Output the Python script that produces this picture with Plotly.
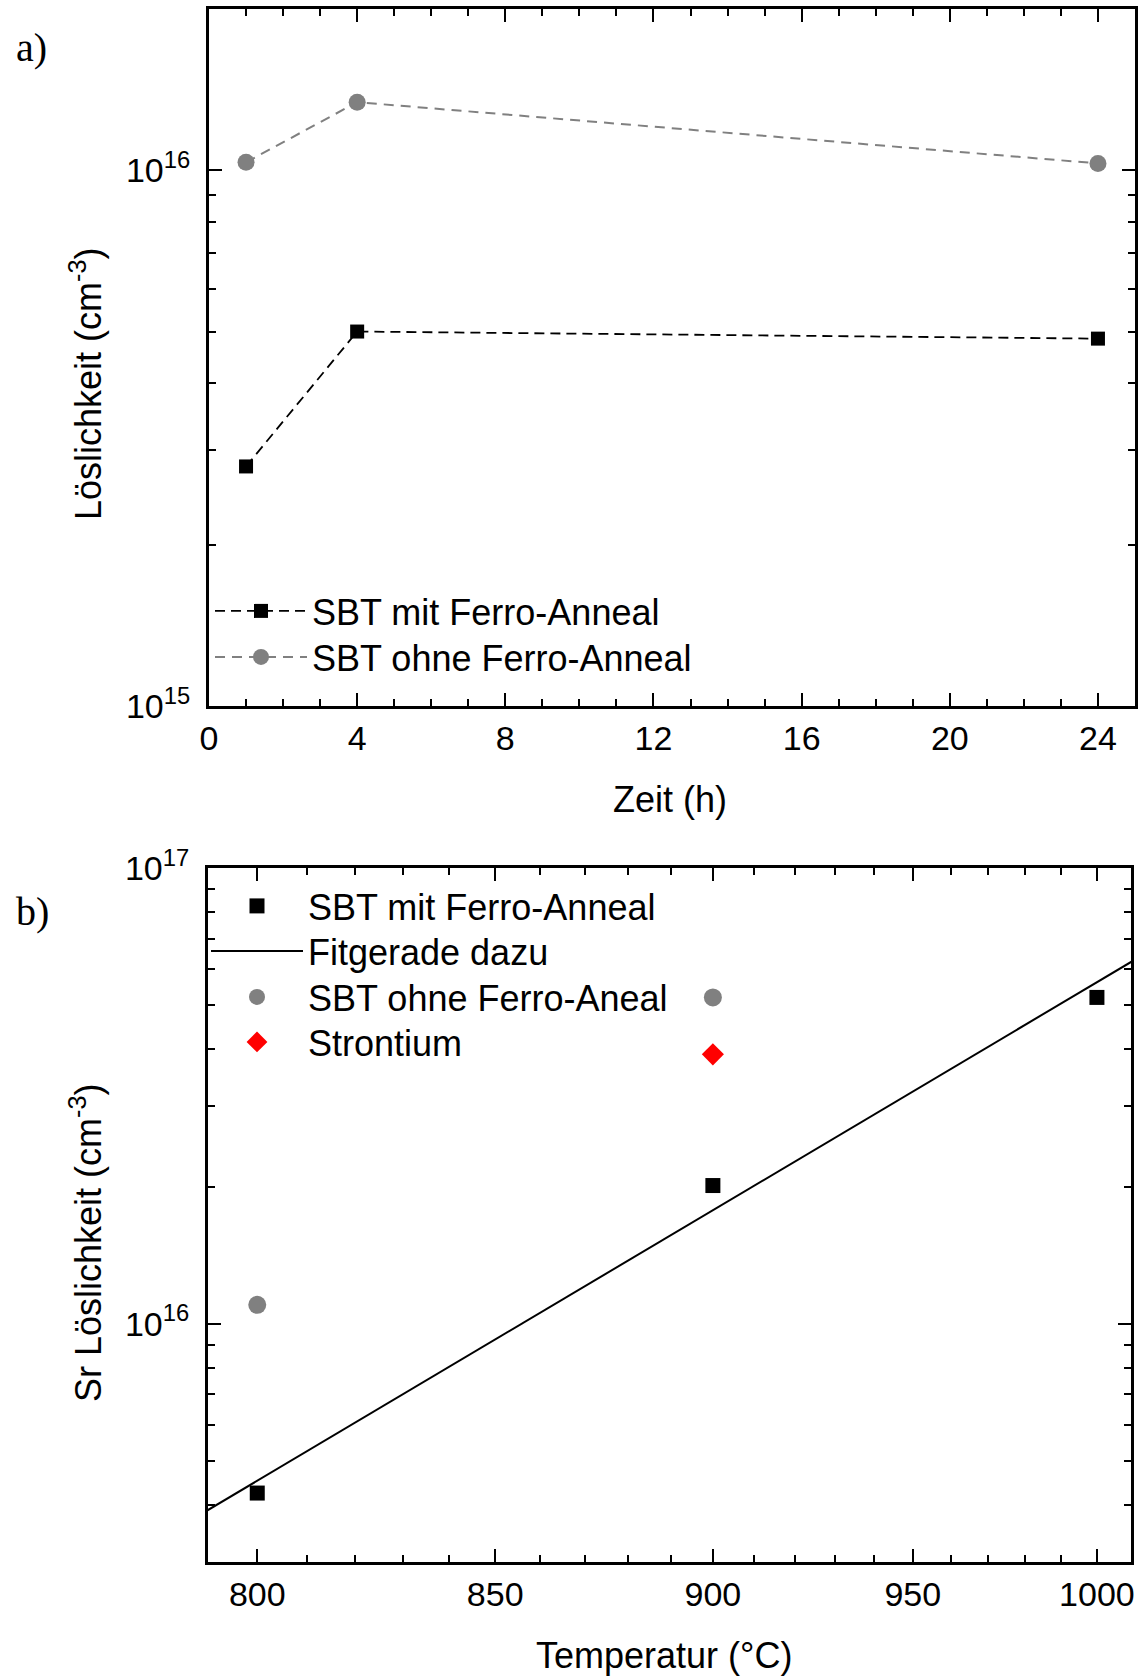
import math
import plotly.graph_objects as go

W, H = 1141, 1677
FONT = "Liberation Sans, Arial, sans-serif"
SERIF = "Liberation Serif, Times New Roman, serif"

# ---------------- Panel a data (time dependence) ----------------
zeit_h = [1, 4, 24]
mit_ferro_a = [2.8e15, 5.0e15, 4.85e15]
ohne_ferro_a = [1.035e16, 1.34e16, 1.03e16]
time_ticks = [0, 4, 8, 12, 16, 20, 24]

# ---------------- Panel b data (temperature dependence) ----------------
temp_mit = [800, 900, 1000]
mit_ferro_b = [4.25e15, 2.01e16, 5.2e16]
temp_ohne = [800, 900]
ohne_ferro_b = [1.1e16, 5.2e16]
temp_sr = [900]
strontium_b = [3.9e16]
temp_fit = [790, 1010]
fit_b = [3.89e15, 6.24e16]

temp_ticks = [800, 850, 900, 950, 1000]
temp_minor = [810, 820, 830, 840, 860, 870, 880, 890,
              910, 920, 930, 940, 960, 970, 980, 990]


def recip(temps):
    """Reciprocal (Arrhenius) temperature scale: 1000 / T[K]."""
    return [1000.0 / (t + 273.15) for t in temps]


def px_x(p):
    return p / W


def px_y(p):
    return 1 - p / H


fig = go.Figure()

# Panel a
fig.add_trace(go.Scatter(
    x=zeit_h, y=mit_ferro_a, mode="lines+markers", name="SBT mit Ferro-Anneal",
    line=dict(color="black", width=1.8, dash="10px,6px"),
    marker=dict(symbol="square", size=14, color="black"),
    xaxis="x", yaxis="y", legend="legend"))
fig.add_trace(go.Scatter(
    x=zeit_h, y=ohne_ferro_a, mode="lines+markers", name="SBT ohne Ferro-Anneal",
    line=dict(color="#808080", width=2, dash="10px,7px"),
    marker=dict(symbol="circle", size=17, color="#808080"),
    xaxis="x", yaxis="y", legend="legend2"))

# Panel b
fig.add_trace(go.Scatter(
    x=recip(temp_mit), y=mit_ferro_b, mode="markers", name="SBT mit Ferro-Anneal",
    customdata=temp_mit, hovertemplate="%{customdata} °C: %{y:.3e}<extra></extra>",
    marker=dict(symbol="square", size=15, color="black"),
    xaxis="x2", yaxis="y2", legend="legend3"))
fig.add_trace(go.Scatter(
    x=recip(temp_fit), y=fit_b, mode="lines", name="Fitgerade dazu",
    line=dict(color="black", width=2),
    xaxis="x2", yaxis="y2", legend="legend4"))
fig.add_trace(go.Scatter(
    x=recip(temp_ohne), y=ohne_ferro_b, mode="markers", name="SBT ohne Ferro-Aneal",
    customdata=temp_ohne, hovertemplate="%{customdata} °C: %{y:.3e}<extra></extra>",
    marker=dict(symbol="circle", size=18, color="#808080"),
    xaxis="x2", yaxis="y2", legend="legend5"))
fig.add_trace(go.Scatter(
    x=recip(temp_sr), y=strontium_b, mode="markers", name="Strontium",
    customdata=temp_sr, hovertemplate="%{customdata} °C: %{y:.3e}<extra></extra>",
    marker=dict(symbol="diamond", size=17, color="#ff0000"),
    xaxis="x2", yaxis="y2", legend="legend6"))

tickfont = dict(family=FONT, size=34, color="black")
common = dict(showline=True, linecolor="black", linewidth=3, mirror="ticks",
              ticks="inside", tickcolor="black", tickwidth=2, ticklen=13,
              showgrid=False, zeroline=False, tickfont=tickfont, automargin=False)
minor_common = dict(ticks="inside", ticklen=7, tickwidth=2, tickcolor="black", showgrid=False)


def leg(left_px, row_center_px):
    return dict(x=px_x(left_px), y=px_y(row_center_px - 31), xanchor="left", yanchor="top",
                bgcolor="rgba(0,0,0,0)", borderwidth=0, itemwidth=92,
                font=dict(family=FONT, size=36, color="black"), tracegroupgap=0)


fig.update_layout(
    width=W, height=H,
    margin=dict(l=0, r=0, t=0, b=0, pad=0, autoexpand=False),
    paper_bgcolor="white", plot_bgcolor="white",
    font=dict(family=FONT, color="black"),
    xaxis=dict(domain=[px_x(209), px_x(1135)], anchor="y", range=[0, 25],
               tickmode="array", tickvals=time_ticks, ticktext=[str(t) for t in time_ticks],
               minor=dict(tickmode="linear", tick0=0, dtick=1, **minor_common),
               ticklabelstandoff=0, **common),
    yaxis=dict(domain=[px_y(706), px_y(9)], anchor="x", type="log",
               range=[15, math.log10(2e16)],
               tickmode="array", tickvals=[1e15, 1e16],
               ticktext=["10<sup>15</sup>", "10<sup>16</sup>"],
               minor=dict(tickmode="array",
                          tickvals=[k * 1e15 for k in range(2, 10)] + [2e16],
                          **minor_common),
               ticklabelstandoff=9, **common),
    xaxis2=dict(domain=[px_x(208), px_x(1131)], anchor="y2",
                range=recip([790.2, 1009.7]),
                tickmode="array", tickvals=recip(temp_ticks),
                ticktext=[str(t) for t in temp_ticks],
                minor=dict(tickmode="array", tickvals=recip(temp_minor), **minor_common),
                ticklabelstandoff=0, **common),
    yaxis2=dict(domain=[px_y(1562), px_y(868)], anchor="x2", type="log",
                range=[math.log10(3e15), 17],
                tickmode="array", tickvals=[1e16, 1e17],
                ticktext=["10<sup>16</sup>", "10<sup>17</sup>"],
                minor=dict(tickmode="array",
                           tickvals=[k * 1e15 for k in range(3, 10)] + [k * 1e16 for k in range(2, 10)],
                           **minor_common),
                ticklabelstandoff=9, **common),
    legend=leg(210, 612),
    legend2=leg(210, 658),
    legend3=leg(206, 907),
    legend4=leg(206, 952),
    legend5=leg(206, 998),
    legend6=leg(206, 1043),
    showlegend=True,
)

title_font = dict(family=FONT, size=36, color="black")
annots = [
    dict(text="Zeit (h)", x=px_x(670), y=px_y(800), font=title_font, textangle=0),
    dict(text="Temperatur (°C)", x=px_x(664), y=px_y(1655), font=title_font, textangle=0),
    dict(text="Löslichkeit (cm<sup>-3</sup>)", x=px_x(86), y=px_y(384), font=title_font, textangle=-90),
    dict(text="Sr Löslichkeit (cm<sup>-3</sup>)", x=px_x(86), y=px_y(1243), font=title_font, textangle=-90),
    dict(text="a)", x=px_x(31), y=px_y(48), font=dict(family=SERIF, size=40, color="black"), textangle=0),
    dict(text="b)", x=px_x(32), y=px_y(911), font=dict(family=SERIF, size=40, color="black"), textangle=0),
]
for a in annots:
    fig.add_annotation(xref="paper", yref="paper", xanchor="center", yanchor="middle",
                       showarrow=False, **a)

fig.write_html("out.html")
